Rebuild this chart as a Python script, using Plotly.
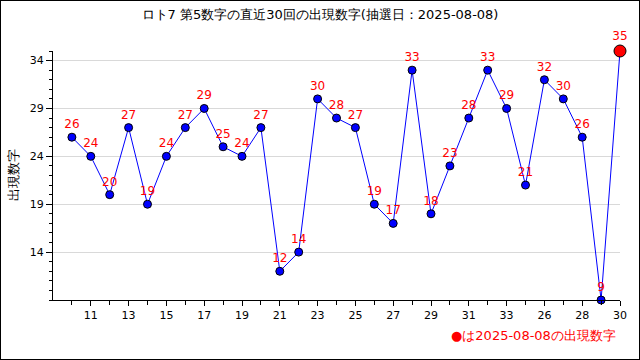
import plotly.graph_objects as go

x_labels = [str(v) for v in range(10, 35)] + ["26", "27", "28", "29", "30"]
values = [26, 24, 20, 27, 19, 24, 27, 29, 25, 24, 27, 12, 14, 30, 28, 27, 19, 17, 33, 18,
          23, 28, 33, 29, 21, 32, 30, 26, 9, 35]
y_ticks = [14, 19, 24, 29, 34]
title = "ロト7 第5数字の直近30回の出現数字(抽選日：2025-08-08)"
note = "●は2025-08-08の出現数字"

idx = list(range(len(values)))
n = len(values)
colors = ["#0000ff"] * (n - 1) + ["#ff0000"]
sizes = [8] * (n - 1) + [12]

fig = go.Figure()
fig.add_trace(go.Scatter(
    x=idx, y=values, mode="lines+markers+text",
    line=dict(color="blue", width=1),
    marker=dict(color=colors, size=sizes, opacity=1, line=dict(color="black", width=1)),
    text=[str(v) for v in values], textposition="top center",
    textfont=dict(color="red", size=12, family="DejaVu Sans"),
    cliponaxis=False, hoverinfo="skip", showlegend=False,
))

# inner figure is 638x358, wrapped by a 1px black border -> 640x360
W, H = 638, 358
L, R, T, B = 39, 19, 50, 59
pw, ph = W - L - R, H - T - B

fig.update_layout(
    width=W, height=H,
    margin=dict(l=L, r=R, t=T, b=B),
    paper_bgcolor="white", plot_bgcolor="white",
    font=dict(family="DejaVu Sans", size=11, color="black"),
    title=dict(text=title, x=0.5, xanchor="center", y=1 - 13 / H, yanchor="middle",
               font=dict(size=13, family="DejaVu Sans")),
    xaxis=dict(range=[-1, n - 1], tickmode="array",
               tickvals=idx[1::2], ticktext=x_labels[1::2],
               showgrid=False, zeroline=False, showline=True, linecolor="black",
               ticks="outside", ticklen=5, tickcolor="black",
               minor=dict(tickvals=idx, ticks="outside", ticklen=4, tickcolor="black"),
               tickfont=dict(size=11)),
    yaxis=dict(range=[9, 35], tickmode="array", tickvals=y_ticks,
               showgrid=True, gridcolor="#d9d9d9", zeroline=False,
               showline=True, linecolor="black",
               ticks="outside", ticklen=6, tickcolor="black",
               minor=dict(dtick=1, tick0=9, ticks="outside", ticklen=3, tickcolor="black", showgrid=False),
               title=dict(text="出現数字", standoff=8, font=dict(size=13)),
               tickfont=dict(size=11)),
    annotations=[dict(text=note, xref="paper", yref="paper",
                      x=(617 - L) / pw, y=-(334 - T - ph) / ph, xanchor="right", yanchor="middle",
                      showarrow=False, font=dict(color="red", size=13))],
)

post = (
    "document.body.style.margin='0';"
    "var d=document.querySelector('.plotly-graph-div');"
    "d.style.border='1px solid black';d.style.boxSizing='content-box';"
)
fig.write_html("out.html", config={"displayModeBar": False}, post_script=post)
